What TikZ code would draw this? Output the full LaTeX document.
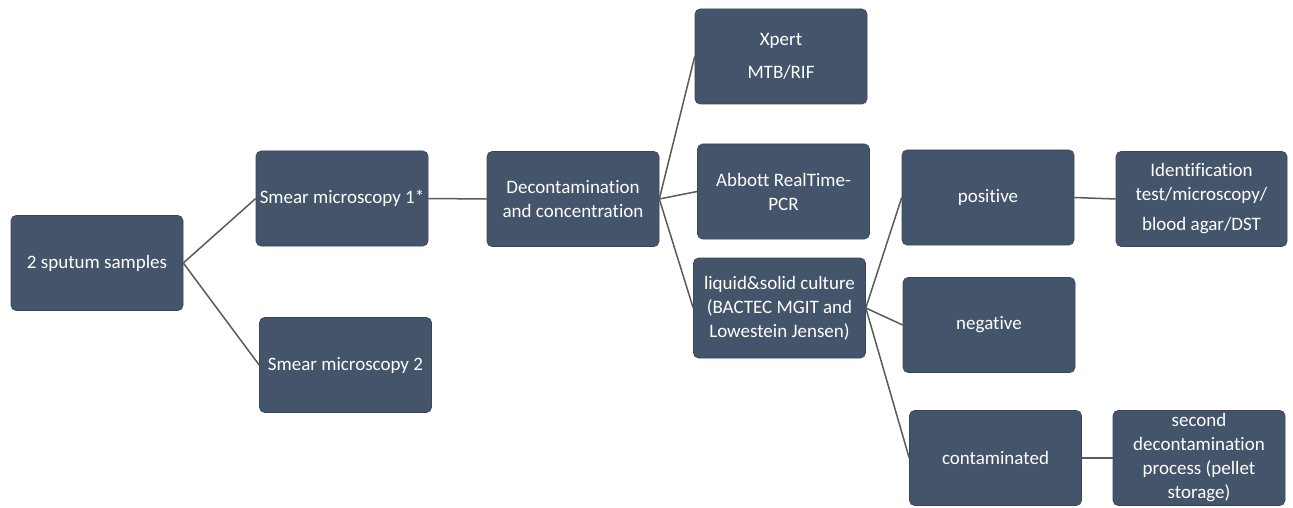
\documentclass[tikz,border=0pt]{standalone}
\usepackage{fontspec}
\setmainfont{Carlito}[Ligatures={NoCommon}]
\definecolor{boxfill}{HTML}{44546A}
\definecolor{boxedge}{HTML}{3A4759}
\definecolor{linecol}{HTML}{5A5A5A}
\begin{document}
\begin{tikzpicture}[x=1pt,y=-1pt,
  box/.style={fill=boxfill, draw=boxedge, line width=0.6pt, rounded corners=5pt,
    text=white, align=center, inner sep=0pt,
    minimum width=172pt, minimum height=95pt,
    font=\fontsize{19}{24}\selectfont},
  link/.style={draw=linecol, line width=1.5pt}]
\useasboundingbox (0,0) rectangle (1293,508);
\fill[white] (0,0) rectangle (1293,508);
\node[box] (sp) at (97,263) {2 sputum samples};
\node[box] (s1) at (342,198.5) {Smear microscopy 1*};
\node[box] (s2) at (345.5,365) {Smear microscopy 2};
\node[box] (dc) at (573,199) {Decontamination\\and concentration};
\node[box] (xp) at (781,56.5) {Xpert\\[9pt]MTB/RIF};
\node[box] (ab) at (783.5,191.5) {Abbott RealTime-\\PCR};
\node[box, minimum height=100pt] (lc) at (779.5,308) {liquid\&solid culture\\(BACTEC MGIT and\\Lowestein Jensen)};
\node[box] (po) at (988,197.5) {positive};
\node[box, minimum width=171pt] (id) at (1201.5,199) {Identification\\test/microscopy/\\[6pt]blood agar/DST};
\node[box] (ne) at (989,325) {negative};
\node[box] (co) at (995.5,458) {contaminated};
\node[box] (se) at (1199,458) {second\\decontamination\\process (pellet\\storage)};
\draw[link] (sp.east) -- (s1.west);
\draw[link] (sp.east) -- (s2.west);
\draw[link] (s1.east) -- (dc.west);
\draw[link] (dc.east) -- (xp.west);
\draw[link] (dc.east) -- (ab.west);
\draw[link] (dc.east) -- (lc.west);
\draw[link] (lc.east) -- (po.west);
\draw[link] (lc.east) -- (ne.west);
\draw[link] (lc.east) -- (co.west);
\draw[link] (po.east) -- (id.west);
\draw[link] (co.east) -- (se.west);
\end{tikzpicture}
\end{document}
